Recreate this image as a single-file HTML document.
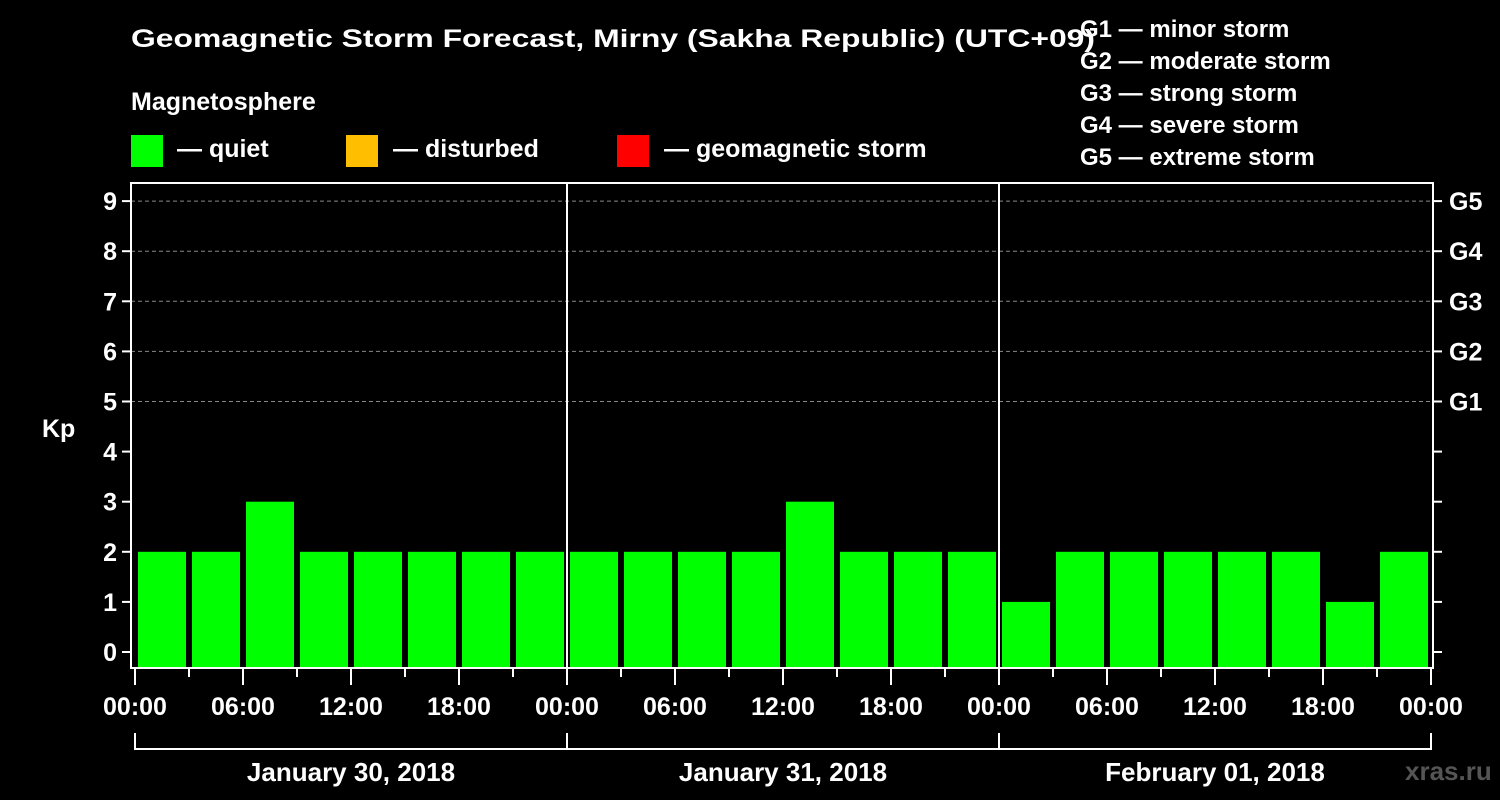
<!DOCTYPE html>
<html><head><meta charset="utf-8"><style>
html,body{margin:0;padding:0;background:#000;}
svg{display:block;font-family:"Liberation Sans",Arial,sans-serif;font-weight:bold;}
</style></head><body>
<svg id="chart" width="1500" height="800" viewBox="0 0 1500 800">
<rect x="0" y="0" width="1500" height="800" fill="#000"/>
<text x="131" y="47" fill="#fff" font-size="25" textLength="964" lengthAdjust="spacingAndGlyphs">Geomagnetic Storm Forecast, Mirny (Sakha Republic) (UTC+09)</text>
<text x="131" y="110" fill="#fff" font-size="25">Magnetosphere</text>
<g><rect x="131" y="135" width="32" height="32" fill="#00ff00"/><text x="177" y="157" fill="#fff" font-size="25">— quiet</text></g>
<g><rect x="346" y="135" width="32" height="32" fill="#ffbf00"/><text x="393" y="157" fill="#fff" font-size="25">— disturbed</text></g>
<g><rect x="617" y="135" width="32" height="32" fill="#ff0000"/><text x="664" y="157" fill="#fff" font-size="25">— geomagnetic storm</text></g>
<g fill="#fff" font-size="24">
<text x="1080" y="37">G1 — minor storm</text>
<text x="1080" y="69">G2 — moderate storm</text>
<text x="1080" y="101">G3 — strong storm</text>
<text x="1080" y="133">G4 — severe storm</text>
<text x="1080" y="165">G5 — extreme storm</text>
</g>
<g id="grid"></g>
<g id="bars"></g>
<g id="axes"></g>
<text x="1405" y="780" fill="#555" font-size="26">xras.ru</text>
</svg>
<script>
const days = ["January 30, 2018","January 31, 2018","February 01, 2018"];
const kpValues = [2,2,3,2,2,2,2,2, 2,2,2,2,3,2,2,2, 1,2,2,2,2,2,1,2];
const yTicks = [0,1,2,3,4,5,6,7,8,9];
const gLabels = ["G1","G2","G3","G4","G5"];
const xTickLabels = ["00:00","06:00","12:00","18:00"];

const NS="http://www.w3.org/2000/svg";
const X0=135, SLOT=54, Y0=652, UNIT=50.1, BOTTOM=668, TOP=183, LEFT=131, RIGHT=1433;
const xs = i => X0 + i*SLOT;
const ys = v => Y0 - v*UNIT;
function mk(tag, attrs, parent){const e=document.createElementNS(NS,tag);for(const k in attrs)e.setAttribute(k,attrs[k]);parent.appendChild(e);return e;}
const grid=document.getElementById('grid'), bars=document.getElementById('bars'), axes=document.getElementById('axes');

// grid lines at 5..9
for(let v=5; v<=9; v++){
  const l=mk('line',{x1:LEFT,x2:RIGHT,y1:ys(v),y2:ys(v),stroke:'#888','stroke-width':1,'stroke-dasharray':'4,3'},grid);
  
  
}
// bars
kpValues.forEach((v,i)=>{
  const c = v>=5?'#ff0000':(v>=4?'#ffbf00':'#00ff00');
  const r=mk('rect',{x:xs(i)+3,y:ys(v),width:SLOT-6,height:BOTTOM-ys(v),fill:c},bars);
  
  
});
// frame
const fr=mk('rect',{x:LEFT,y:TOP,width:RIGHT-LEFT,height:BOTTOM-TOP,fill:'none',stroke:'#fff','stroke-width':2},axes);


// day separators
for(let d=1; d<days.length; d++){
  const l=mk('line',{x1:xs(d*8),x2:xs(d*8),y1:TOP,y2:BOTTOM,stroke:'#fff','stroke-width':2},axes);
  
  
}
// y ticks
yTicks.forEach(v=>{
  mk('line',{x1:LEFT-9,x2:LEFT,y1:ys(v),y2:ys(v),stroke:'#fff','stroke-width':2},axes);
  mk('line',{x1:RIGHT,x2:RIGHT+9,y1:ys(v),y2:ys(v),stroke:'#fff','stroke-width':2},axes);
  const t=mk('text',{x:LEFT-14,y:ys(v)+9,fill:'#fff','font-size':25,'text-anchor':'end'},axes);
  t.textContent=v;
  
  
});
gLabels.forEach((g,i)=>{
  const t=mk('text',{x:RIGHT+16,y:ys(i+5)+9,fill:'#fff','font-size':25},axes);
  t.textContent=g;
  
  
});
const kp=mk('text',{x:42,y:437,fill:'#fff','font-size':25},axes);
kp.textContent='Kp';


// x ticks
for(let i=0;i<=kpValues.length;i++){
  const major=i%2===0;
  mk('line',{x1:xs(i),x2:xs(i),y1:BOTTOM,y2:BOTTOM+(major?17:9),stroke:'#fff','stroke-width':2},axes);
  if(major){
    const t=mk('text',{x:xs(i),y:715,fill:'#fff','font-size':25,'text-anchor':'middle'},axes);
    t.textContent=xTickLabels[(i/2)%4];
    
    
  }
}
// day brackets
days.forEach((d,k)=>{
  const a=xs(k*8), b=xs(k*8+8);
  mk('polyline',{points:`${a},733 ${a},749 ${b},749 ${b},733`,fill:'none',stroke:'#fff','stroke-width':2},axes);
  const t=mk('text',{x:(a+b)/2,y:781,fill:'#fff','font-size':26,'text-anchor':'middle'},axes);
  t.textContent=d;
  
  
});
</script>
</body></html>
